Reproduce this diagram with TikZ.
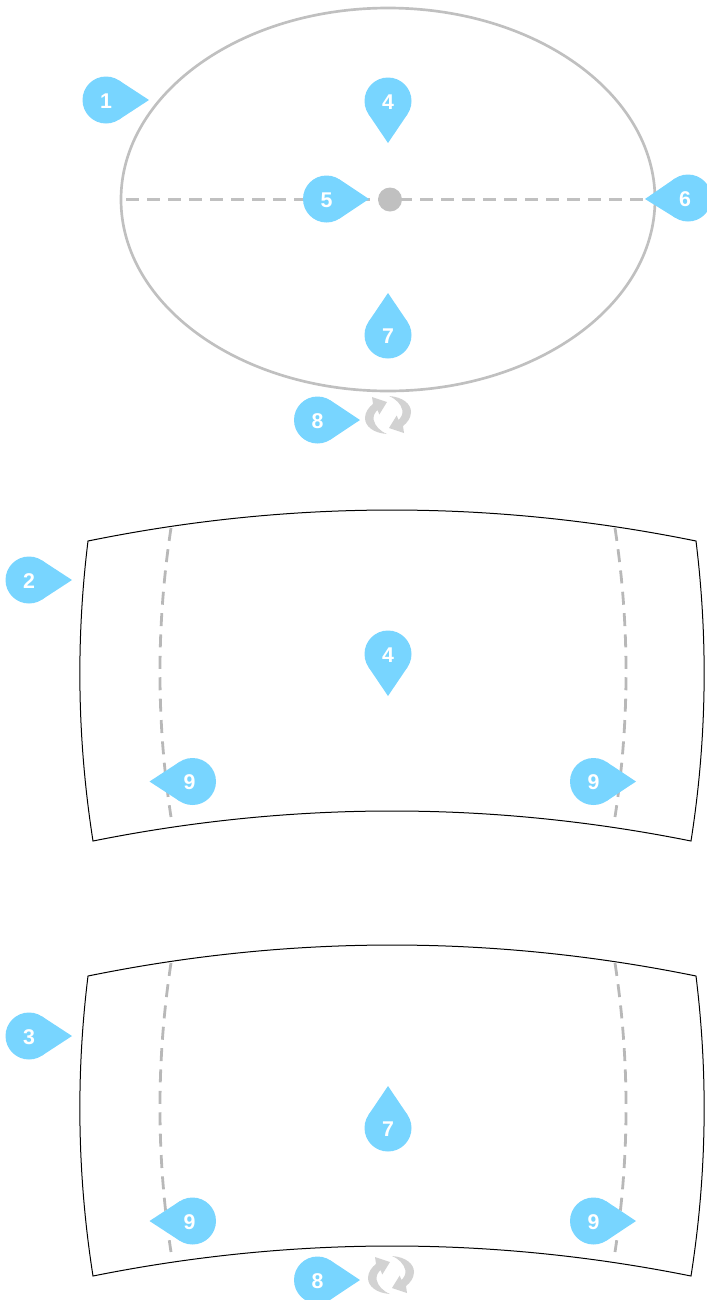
\documentclass[tikz,border=0pt]{standalone}
\usepackage{fontspec}
\setmainfont{Liberation Sans}
\usetikzlibrary{calc,shapes.geometric}
\definecolor{pinblue}{HTML}{78D5FF}
\definecolor{ringgray}{HTML}{C0C0C0}
\definecolor{dashgray}{HTML}{B8B8B8}
\definecolor{iconcolor}{HTML}{D2D2D2}
\newcommand{\pinmark}[4]{%
  \node[pin] (#1) at (#2) {};
  \coordinate (#1tip) at (#3);
  \fill[pinblue] (#1tip) -- (tangent cs:node=#1,point={(#1tip)},solution=1)
    -- (#1.center) -- (tangent cs:node=#1,point={(#1tip)},solution=2) -- cycle;
  \node[pintext] (#1text) at (#1) {#4};
}

\begin{document}
\begin{tikzpicture}[
    x=0.75pt, y=-0.75pt,
    pin/.style={circle, fill=pinblue, minimum size=35.25pt, inner sep=0pt, outer sep=0pt},
    pintext/.style={inner sep=0pt, yshift=-0.6pt, text=white, font=\fontsize{16}{16}\selectfont\bfseries},
    dashline/.style={dashgray, line width=2.1pt, dash pattern=on 9.75pt off 6.3pt},
    panel/.pic={
      \draw[black, line width=0.75pt, line join=miter]
        (88,541) .. controls (290.7,499.7) and (493.3,499.7) .. (696,541)
        .. controls (708.3,641) and (706.7,741) .. (691,841)
        .. controls (491.7,801) and (292.3,801) .. (93,841)
        .. controls (77.3,741) and (75.7,641) .. cycle;
      \draw[dashline] (171,528) .. controls (156.3,624) and (156.3,721) .. (171,817);
      \draw[dashline] (615,528) .. controls (629.7,624) and (629.7,721) .. (615,817);
    },
    reload/.pic={
      \foreach \r in {0,180} {
        \fill[iconcolor, rotate=\r]
          (-1,19) .. controls (-15,18) and (-23,11) .. (-23,3)
          .. controls (-23,-3) and (-19,-8) .. (-15,-11)
          -- (-16,-18) -- (-1,-13) -- (-8.7,-0.5) -- (-10.5,-5)
          .. controls (-13.5,-2) and (-15,1) .. (-14.3,5)
          .. controls (-13,11) and (-8,16) .. cycle;
      }
    },
]
\useasboundingbox (0,0) rectangle (707,1300);
\clip (0,0) rectangle (707,1300);

% Ring
\node[draw=ringgray, line width=2pt, ellipse, minimum width=400.5pt, minimum height=287.25pt, inner sep=0pt, outer sep=0pt] (ring) at (388,199.5) {};
\coordinate (axisl) at (126,199.5);
\coordinate (axisr) at (648,199.5);
\draw[ringgray, line width=2.25pt, dash pattern=on 9.75pt off 6pt] (axisl) -- (axisr);
\node[circle, fill=ringgray, minimum size=18pt, inner sep=0pt] (hub) at (390,199.5) {};

% Panels
\pic at (0,0) {panel};
\pic at (0,435) {panel};

% Icons
\pic at (388,415) {reload};
\pic at (391,1275) {reload};

% Pins, ring
\pinmark{pinA}{106,100}{149,100}{1}
\pinmark{pinB}{388,101}{388,143}{4}
\pinmark{pinC}{326.5,199}{369,199}{5}
\pinmark{pinD}{688,198}{645,199}{\kern-4.5pt 6}
\pinmark{pinE}{388,335}{388,293}{7}
\pinmark{pinF}{317.5,420}{360,420}{8}

% Pins, first panel
\pinmark{pinG}{29,580}{72,580}{2}
\pinmark{pinH}{388,654}{388,696}{4}
\pinmark{pinI}{192.5,781.5}{149.5,781.5}{\kern-4.5pt 9}
\pinmark{pinJ}{593.5,781.5}{636,781.5}{9}

% Pins, second panel
\pinmark{pinK}{29,1036}{72,1036}{3}
\pinmark{pinL}{388,1128}{388,1086}{7}
\pinmark{pinM}{192.5,1221}{149.5,1221}{\kern-4.5pt 9}
\pinmark{pinN}{593.5,1221}{636,1221}{9}
\pinmark{pinO}{317.5,1280}{360,1280}{8}
\end{tikzpicture}
\end{document}
